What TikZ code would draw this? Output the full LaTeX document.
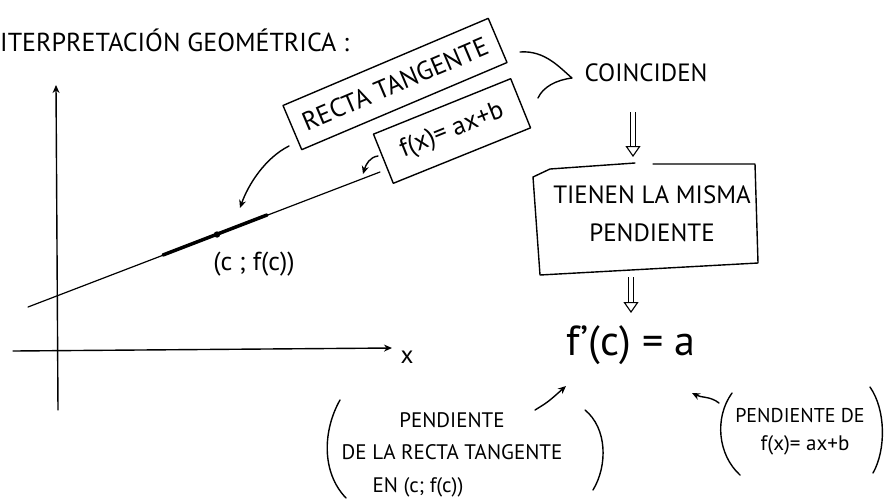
\documentclass[tikz,border=0pt]{standalone}
\usepackage{fontspec}
\setmainfont{PT Sans}
\usetikzlibrary{arrows.meta}
\begin{document}
\begin{tikzpicture}[x=1pt,y=-1pt,
  ink/.style={line width=1.4pt, line cap=round, line join=round},
  arr/.style={ink, -{Stealth[length=8pt,width=7pt]}},
  dbl/.style={line width=1.1pt, double distance=3.5pt, -{Triangle[open,length=11pt,width=15pt,line width=1.1pt]}},
  boxed/.style={draw, ink, inner sep=4pt, font=\fontsize{26}{30}\selectfont},
  txt/.style={inner sep=0pt, font=\fontsize{25}{30}\selectfont},
  small/.style={inner sep=0pt, font=\fontsize{21}{25}\selectfont}]
\useasboundingbox (0,0) rectangle (885,499);
% title
\node[txt, anchor=west, font=\fontsize{26}{30}\selectfont] (title) at (0,40) {ITERPRETACIÓN GEOMÉTRICA :};
% axes
\coordinate (ybot) at (58,410); \coordinate (ytop) at (56,85);
\draw[arr] (ybot) -- (ytop);
\coordinate (xl) at (13,351); \coordinate (xr) at (392,348);
\draw[arr] (xl) -- (xr);
\node[txt] (xlab) at (407,357) {x};
% tangent line
\coordinate (t1) at (28,307); \coordinate (t2) at (380,172);
\draw[ink, line width=1.2pt] (t1) -- (t2);
\coordinate (s1) at (163,255); \coordinate (s2) at (267,215);
\draw[line width=3.5pt, line cap=round] (s1) -- (s2);
\fill (217,234.5) circle (3.2pt) coordinate (pt);
\node[txt, font=\fontsize{26}{30}\selectfont] (plab) at (254,264) {(c ; f(c))};
% rotated boxes
\node[boxed, rotate=23, minimum width=223pt, minimum height=48pt] (rt) at (395,84) {RECTA TANGENTE};
\node[boxed, rotate=22, minimum width=148pt, minimum height=53pt] (fx) at (452,131) {f(x)= ax+b};
% arrows from boxes to line
\coordinate (a1s) at (289,146); \coordinate (a1e) at (240,208);
\draw[arr] (a1s) .. controls (265,158) and (248,185) .. (a1e);
\coordinate (a2s) at (378,156); \coordinate (a2e) at (363,174);
\draw[arr] (a2s) .. controls (370,157) and (366,164) .. (a2e);
% bracket
\coordinate (b1) at (520,52); \coordinate (bp) at (572,78); \coordinate (b2) at (538,98);
\draw[ink] (b1) .. controls (545,50) and (560,68) .. (bp) .. controls (556,80) and (543,87) .. (b2);
\node[txt] (coin) at (646,73) {COINCIDEN};
% first double arrow
\coordinate (d1a) at (633,112); \coordinate (d1b) at (633,157);
\draw[dbl] (d1a) -- (d1b);
% box tienen
\node[txt, align=center] (tien) at (652,214) {TIENEN LA MISMA\\[8pt]PENDIENTE};
\draw[ink] (635,163) -- (550,169) -- (533,177) -- (540,275) -- (758,263) -- (755,164) -- (653,164);
% second double arrow
\coordinate (d2a) at (631,277); \coordinate (d2b) at (631,313);
\draw[dbl] (d2a) -- (d2b);
% formula
\node[inner sep=0pt, font=\fontsize{42}{46}\selectfont] (form) at (631,345) {f'(c) = a};
% left annotation
\node[small] (l1) at (452,420) {PENDIENTE};
\node[small] (l2) at (452,452) {DE LA RECTA TANGENTE};
\node[small] (l3) at (418,487) {EN (c; f(c))};
\coordinate (a3s) at (535,410); \coordinate (a3e) at (566,386);
\draw[arr] (a3s) .. controls (548,402) .. (a3e);
\coordinate (p1a) at (340,400); \coordinate (p1b) at (346,498);
\draw[ink] (p1a) .. controls (323,430) and (321,472) .. (p1b);
\coordinate (p2a) at (585,410); \coordinate (p2b) at (593,490);
\draw[ink] (p2a) .. controls (607,428) and (608,465) .. (p2b);
% right annotation
\coordinate (a4s) at (719,403); \coordinate (a4e) at (692,393);
\draw[arr] (a4s) .. controls (710,396) and (702,398) .. (a4e);
\node[small, font=\fontsize{20}{24}\selectfont] (r1) at (800,415) {PENDIENTE DE};
\node[small] (r2) at (805,445) {f(x)= ax+b};
\coordinate (p3a) at (732,393); \coordinate (p3b) at (740,475);
\draw[ink] (p3a) .. controls (714,418) and (718,455) .. (p3b);
\coordinate (p4a) at (870,387); \coordinate (p4b) at (873,473);
\draw[ink] (p4a) .. controls (886,410) and (886,450) .. (p4b);
\end{tikzpicture}
\end{document}
